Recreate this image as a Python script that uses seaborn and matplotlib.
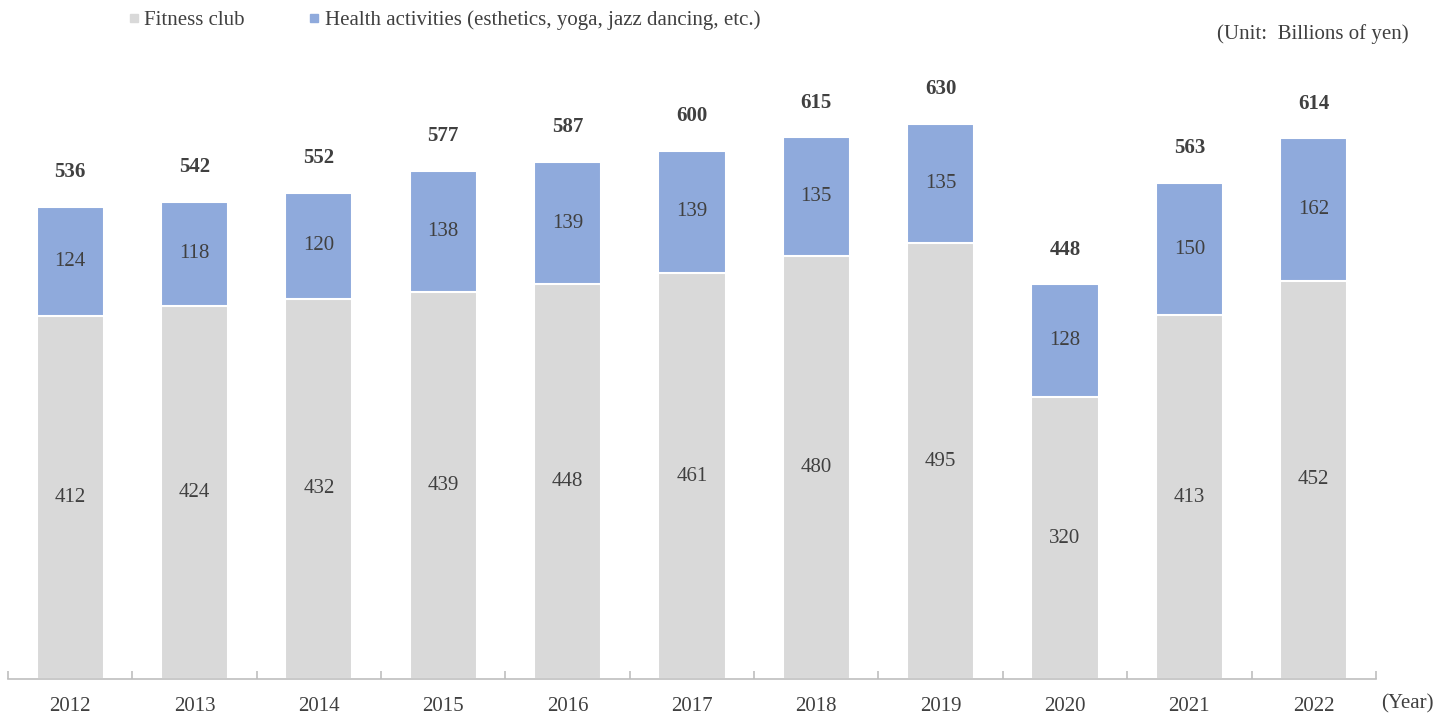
import pandas as pd
import matplotlib.pyplot as plt
import seaborn as sns
from matplotlib.lines import Line2D

# Data (billions of yen)
years = ["2012", "2013", "2014", "2015", "2016", "2017", "2018", "2019", "2020", "2021", "2022"]
fitness = [412, 424, 432, 439, 448, 461, 480, 495, 320, 413, 452]
health = [124, 118, 120, 138, 139, 139, 135, 135, 128, 150, 162]
totals = [536, 542, 552, 577, 587, 600, 615, 630, 448, 563, 614]

df = pd.DataFrame({"Year": years, "Fitness": fitness, "Health": health, "Total": totals})

gray = "#d9d9d9"
blue = "#8faadc"
txt = "#404040"
fs = 15

sns.set_style("white")
plt.rcParams["font.family"] = ["Liberation Serif", "DejaVu Serif"]

fig = plt.figure(figsize=(14.48, 7.18), dpi=100)
ax = fig.add_axes([0.0055, 0.0543, 0.9447, 0.866])

# total bars (blue) then fitness bars (gray) on top
sns.barplot(data=df, x="Year", y="Total", color=blue, width=0.54,
            saturation=1, edgecolor="white", linewidth=1.5, ax=ax)
sns.barplot(data=df, x="Year", y="Fitness", color=gray, width=0.54,
            saturation=1, edgecolor="white", linewidth=1.5, ax=ax)

ax.set_xlim(-0.5, len(years) - 0.5)
ax.set_ylim(0, 706)
ax.set_xlabel("")
ax.set_ylabel("")
ax.set_yticks([])

for s in ["top", "left", "right"]:
    ax.spines[s].set_visible(False)
ax.spines["bottom"].set_color("#bfbfbf")
ax.spines["bottom"].set_linewidth(1.2)

# tick marks at category boundaries, pointing up
ax.set_xticks(range(len(years)))
ax.set_xticklabels(years, fontsize=fs, color=txt)
ax.tick_params(axis="x", which="major", length=0, pad=13)
ax.set_xticks([i - 0.5 for i in range(len(years) + 1)], minor=True)
ax.tick_params(axis="x", which="minor", bottom=True, length=6, direction="in",
               color="#bfbfbf", width=1.2)

for i in range(len(years)):
    ax.text(i, fitness[i] / 2, str(fitness[i]), ha="center", va="center", fontsize=fs, color=txt)
    ax.text(i, fitness[i] + health[i] / 2, str(health[i]), ha="center", va="center", fontsize=fs, color=txt)
    ax.annotate(str(totals[i]), (i, totals[i]), xytext=(0, 25), textcoords="offset points",
                ha="center", va="center", fontsize=fs, fontweight="bold", color=txt)

handles = [Line2D([], [], marker="s", linestyle="", color=gray, markersize=6),
           Line2D([], [], marker="s", linestyle="", color=blue, markersize=6)]
fig.legend(handles, ["Fitness club", "Health activities (esthetics, yoga, jazz dancing, etc.)"],
           loc="center left", bbox_to_anchor=(0.0735, 0.972), ncol=2, frameon=False,
           fontsize=fs, labelcolor=txt, handletextpad=0.1, columnspacing=2.95, handlelength=0.8)

fig.text(0.973, 0.953, "(Unit:  Billions of yen)", ha="right", va="center", fontsize=fs, color=txt)
fig.text(0.954, 0.019, "(Year)", ha="left", va="center", fontsize=fs, color=txt)

plt.savefig("out.png", dpi=100)
